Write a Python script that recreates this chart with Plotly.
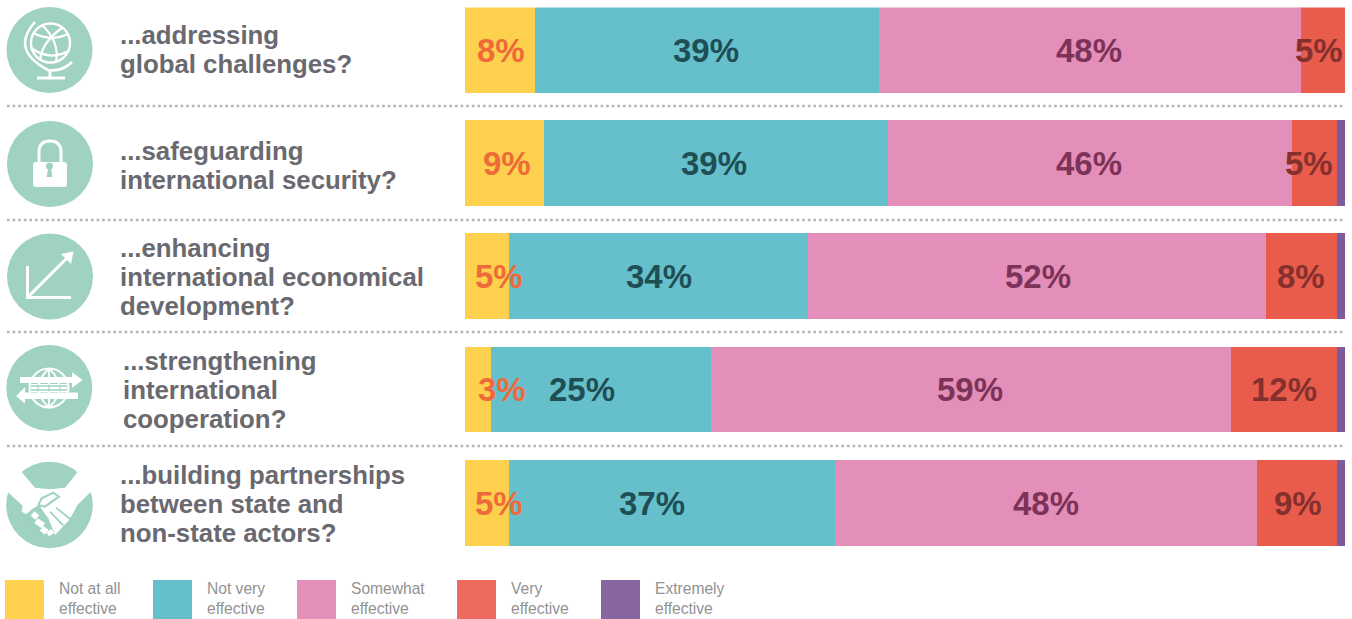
import plotly.graph_objects as go

categories = ["...addressing<br>global challenges?",
              "...safeguarding<br>international security?",
              "...enhancing<br>international economical<br>development?",
              "...strengthening<br>international<br>cooperation?",
              "...building partnerships<br>between state and<br>non-state actors?"]
series_names = ["Not at all effective", "Not very effective", "Somewhat effective",
                "Very effective", "Extremely effective"]
not_at_all = [8, 9, 5, 3, 5]
not_very = [39, 39, 34, 25, 37]
somewhat = [48, 46, 52, 59, 48]
very = [5, 5, 8, 12, 9]
extremely = [0, 1, 1, 1, 1]
bar_colors = ["#FDD14D", "#66C0CB", "#E48FBA", "#E95C4B", "#7D5A9B"]
legend_colors = ["#FDD14D", "#66C0CB", "#E48FBA", "#ED6A5E", "#87669F"]
label_colors = ["#EE6A3A", "#1F4E55", "#7D3358", "#84302E"]
legend_lines = [["Not at all", "effective"], ["Not very", "effective"], ["Somewhat", "effective"],
                ["Very", "effective"], ["Extremely", "effective"]]
values = [not_at_all, not_very, somewhat, very, extremely]

# pixel nudges of the value labels from the centre of their segment
label_shift = [[1, -1, -1, -4], [3, -2, -1, -5], [12, 1, 1, 0], [24, -19, -1, 1], [12, -20, 0, 1]]

W, H = 1352, 619
fig = go.Figure()
for name, vals, col in zip(series_names, values, bar_colors):
    fig.add_bar(y=categories, x=vals, name=name, orientation="h", marker=dict(color=col, line_width=0),
                width=0.759, showlegend=False, xaxis="x", yaxis="y")
fig.add_scatter(x=[0, W], y=[0, H], xaxis="x2", yaxis="y2", mode="markers",
                marker=dict(opacity=0), showlegend=False, hoverinfo="skip")

shapes, ann = [], []
GREEN = "#9FD2C0"
WHITE = "#FFFFFF"
def line(pts, color=WHITE, width=2.2):
    d = "M" + " L".join(f"{x},{y}" for x, y in pts)
    shapes.append(dict(type="path", xref="x2", yref="y2", path=d, line=dict(color=color, width=width)))
def poly(pts, color=WHITE):
    d = "M" + " L".join(f"{x},{y}" for x, y in pts) + " Z"
    shapes.append(dict(type="path", xref="x2", yref="y2", path=d, fillcolor=color, line=dict(width=0)))
def path(d, color=WHITE, width=2.2, fill=None):
    s = dict(type="path", xref="x2", yref="y2", path=d)
    if fill:
        s["fillcolor"] = fill; s["line"] = dict(width=0)
    else:
        s["line"] = dict(color=color, width=width)
    shapes.append(s)
def circle(cx, cy, r, fill=None, color=WHITE, width=2.2):
    s = dict(type="circle", xref="x2", yref="y2", x0=cx-r, x1=cx+r, y0=cy-r, y1=cy+r)
    if fill:
        s["fillcolor"] = fill; s["line"] = dict(width=0)
    else:
        s["line"] = dict(color=color, width=width)
    shapes.append(s)

# dotted separators
for y in [106, 220, 332, 446]:
    shapes.append(dict(type="line", xref="x2", yref="y2", x0=7, x1=1345, y0=y, y1=y,
                       line=dict(color="#B4B4B4", width=2.6, dash="2.6px,3px")))

# icon 1: globe
circle(49.5, 50, 43, fill=GREEN)
circle(50.5, 43, 19.5, width=2.4)
path("M 42,25 Q 60,42 56,62")
path("M 62,28 Q 42,42 40,60")
path("M 33,33 Q 51,42 68,34")
path("M 31,48 Q 51,62 70,50")
path("M 35,22 Q 10,50 48,70 Q 62,72 72,62", width=2.6)
line([(50, 71), (50, 78)], width=3)
line([(37, 78), (65, 78)], width=3)

# icon 2: padlock
circle(50, 164, 43, fill=GREEN)
path("M 33,165 Q 33,162 36,162 L 64,162 Q 67,162 67,165 L 67,184 Q 67,187 64,187 L 36,187 Q 33,187 33,184 Z", fill=WHITE)
path("M 39,162 L 39,152 Q 39,141 50,141 Q 61,141 61,152 L 61,162", width=3)
circle(49.5, 166, 3.5, fill=GREEN)
poly([(48.5, 167), (50.5, 167), (52.5, 177), (46.5, 177)], GREEN)

# icon 3: growth arrow
circle(50, 276.5, 43, fill=GREEN)
line([(27.5, 266), (27.5, 297.5), (71, 297.5)], width=3)
line([(29, 296), (70, 255)], width=3)
poly([(73.5, 251.5), (61, 254), (71, 264)])

# icon 4: globe with arrows
circle(49.3, 388, 43, fill=GREEN)
circle(49, 388, 19.5, width=2)
path("M 49,368.5 Q 28,388 49,407.5 Q 70,388 49,368.5", width=1.8)
line([(49, 368), (49, 408)], width=1.8)
poly([(31, 384), (67, 384), (67, 392), (31, 392)], WHITE)
for x in [38, 49, 60]:
    line([(x, 384.5), (x, 391.5)], GREEN, 1)
line([(31, 386), (67, 386)], GREEN, 1.4)
line([(31, 390), (67, 390)], GREEN, 1.4)
poly([(20, 377), (72, 377), (72, 372), (82.5, 380), (72, 388), (72, 383), (20, 383)])
poly([(78, 392.5), (25, 392.5), (25, 387), (16, 396), (25, 403.5), (25, 399), (78, 399)])

# icon 5: handshake
def h(pts):
    return [(x / 3, y / 3 + 455) for x, y in pts]
circle(49.5, 505, 43.3, fill=GREEN)
poly(h([(0, 30), (60, 45), (105, 98), (150, 103), (195, 98), (238, 45), (300, 30), (300, 100), (275, 108),
        (232, 150), (222, 170), (205, 198), (165, 240), (145, 190), (115, 150), (82, 180), (65, 170),
        (68, 152), (20, 108), (0, 100)]), WHITE)
poly(h([(118, 150), (100, 160), (78, 178), (120, 235), (140, 190)]), GREEN)
line(h([(115, 150), (125, 130), (160, 113), (177, 125), (135, 155), (115, 150)]), GREEN, 2)
line(h([(150, 170), (190, 212)]), GREEN, 1.8)
line(h([(168, 158), (210, 192)]), GREEN, 1.8)
line(h([(98, 175), (112, 188)]), WHITE, 6)
line(h([(108, 197), (130, 212)]), WHITE, 6)
line(h([(125, 220), (140, 232)]), WHITE, 6)
line(h([(143, 238), (158, 228)]), WHITE, 5)

# row questions, one annotation per line for the tight leading
question_x = [118, 118, 118, 121, 118]
question_y = [49.5, 165, 276.5, 390, 504]
for q, x, y in zip(categories, question_x, question_y):
    parts = q.split("<br>")
    for i, part in enumerate(parts):
        ann.append(dict(xref="x2", yref="y2", x=x, y=y + (i - (len(parts) - 1) / 2) * 29,
                        text=f"<b>{part}</b>", showarrow=False, xanchor="left", yanchor="middle", align="left",
                        font=dict(family="Liberation Sans", size=25.8, color="#69696F")))

# value labels
for r, cat in enumerate(categories):
    left = 0
    for s in range(5):
        v = values[s][r]
        if s < 4:
            ann.append(dict(xref="x", yref="y", x=left + v / 2, y=cat, text=f"<b>{v}%</b>", showarrow=False,
                            xshift=label_shift[r][s], yshift=0,
                            font=dict(family="Liberation Sans", size=33, color=label_colors[s])))
        left += v

# legend
swatch_x = [5, 153, 297, 457, 601]
for name, lines_, col, x in zip(series_names, legend_lines, legend_colors, swatch_x):
    shapes.append(dict(type="rect", xref="x2", yref="y2", x0=x, x1=x + 39, y0=580, y1=619,
                       fillcolor=col, line=dict(width=0)))
    ann.append(dict(xref="x2", yref="y2", x=x + 51.5, y=598.5, text="<br>".join(lines_), showarrow=False,
                    xanchor="left", yanchor="middle", align="left",
                    font=dict(family="Liberation Sans", size=15.6, color="#929292")))

fig.update_layout(
    width=W, height=H, autosize=False, barmode="stack", bargap=0,
    margin=dict(l=0, r=0, t=0, b=0), paper_bgcolor="white", plot_bgcolor="rgba(0,0,0,0)",
    xaxis=dict(domain=[464.7 / W, 1345 / W], range=[0, 100], visible=False, fixedrange=True),
    yaxis=dict(domain=[1 - 546 / H, 1 - 7.4 / H], range=[4.38, -0.38], visible=False, type="category",
               categoryorder="array", categoryarray=categories, fixedrange=True),
    xaxis2=dict(domain=[0, 1], range=[0, W], visible=False, anchor="y2", fixedrange=True),
    yaxis2=dict(domain=[0, 1], range=[H, 0], visible=False, anchor="x2", fixedrange=True),
    shapes=shapes, annotations=ann, hovermode=False,
)
fig.write_html("out.html", config=dict(displayModeBar=False),
               post_script="document.body.style.margin='0';document.body.style.overflow='hidden';")
